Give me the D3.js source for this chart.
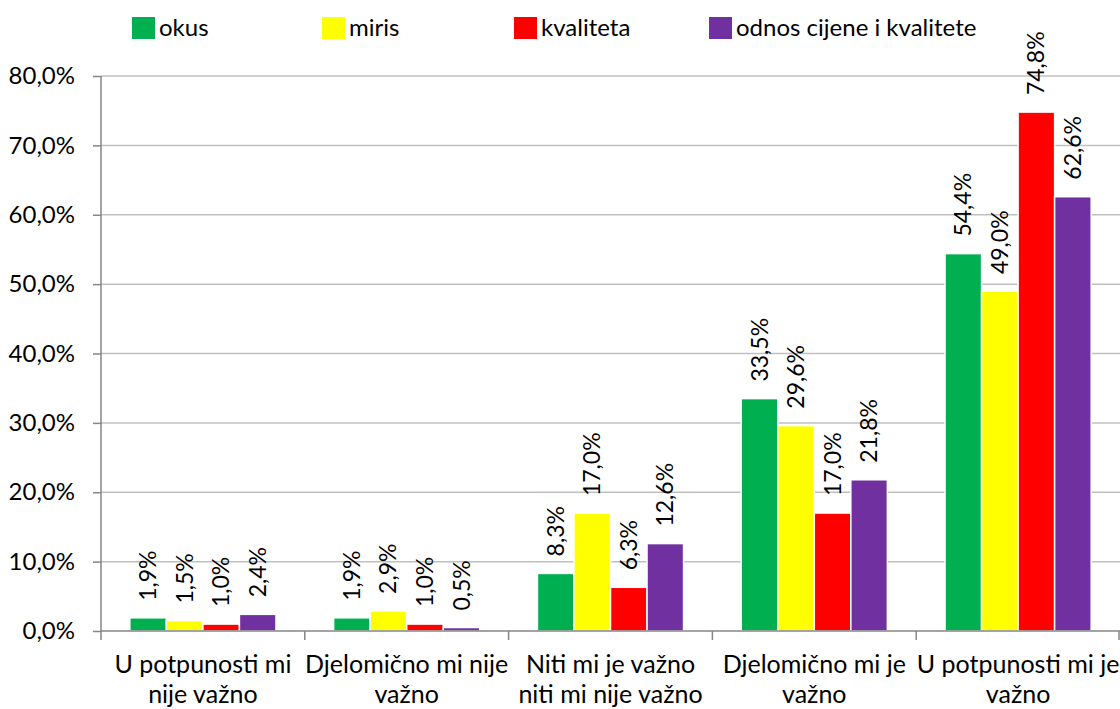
<!DOCTYPE html>
<html lang="hr">
<head>
<meta charset="utf-8">
<title>Važnost</title>
<script src="https://cdn.jsdelivr.net/npm/d3@7"></script>
<style>
body { margin:0; background:#fff; }
svg text { font-family: Lato, "Noto Sans", sans-serif; fill:#000; }
.grid line { stroke:#c0c0c0; stroke-width:1.5px; }
.axis path, .axis line { stroke:#868686; stroke-width:1.5px; }
</style>
</head>
<body>
<div id="chart"></div>
<script>
// podaci
var categories = [
  ["U potpunosti mi", "nije važno"],
  ["Djelomično mi nije", "važno"],
  ["Niti mi je važno", "niti mi nije važno"],
  ["Djelomično mi je", "važno"],
  ["U potpunosti mi je", "važno"]
];
var seriesNames = ["okus", "miris", "kvaliteta", "odnos cijene i kvalitete"];
var okus      = [1.9, 1.9, 8.3, 33.5, 54.4];
var miris     = [1.5, 2.9, 17.0, 29.6, 49.0];
var kvaliteta = [1.0, 1.0, 6.3, 17.0, 74.8];
var odnos     = [2.4, 0.5, 12.6, 21.8, 62.6];
var yTicks = [0, 10, 20, 30, 40, 50, 60, 70, 80];

var colors = ["#00b050", "#ffff00", "#ff0000", "#7030a0"];
var W = 1120, H = 709;
var m = {left: 101, right: 1120, top: 76, bottom: 631};
var legendX = [132, 322, 514, 709];

var series = [okus, miris, kvaliteta, odnos];
var fmt = function(v){ return v.toFixed(1).replace(".", ",") + "%"; };

var svg = d3.select("#chart").append("svg")
  .attr("width", W).attr("height", H);

var y = d3.scaleLinear().domain([0, 80]).range([m.bottom, m.top]);
var x0 = d3.scaleBand().domain(d3.range(categories.length))
  .range([m.left, m.right]).paddingInner(0.283).paddingOuter(0.1415);
var x1 = d3.scaleBand().domain(d3.range(series.length))
  .range([0, x0.bandwidth()]);
var step = x0.step();

// mreža
svg.append("g").attr("class", "grid")
  .selectAll("line").data(yTicks.slice(1)).enter().append("line")
    .attr("x1", m.left).attr("x2", m.right)
    .attr("y1", function(d){ return y(d); }).attr("y2", function(d){ return y(d); });

// stupci
var groups = svg.append("g").selectAll("g").data(categories).enter().append("g")
  .attr("transform", function(d, i){ return "translate(" + x0(i) + ",0)"; });
groups.selectAll("rect").data(function(d, i){
    return series.map(function(s, j){ return {s: j, v: s[i]}; });
  }).enter().append("rect")
    .attr("x", function(d){ return x1(d.s); })
    .attr("width", x1.bandwidth())
    .attr("y", function(d){ return y(d.v); })
    .attr("height", function(d){ return y(0) - y(d.v); })
    .attr("fill", function(d){ return colors[d.s]; })
    .attr("stroke", "#fff").attr("stroke-width", 1.5);

groups.selectAll("text").data(function(d, i){
    return series.map(function(s, j){ return {s: j, v: s[i]}; });
  }).enter().append("text")
    .attr("transform", function(d){
      return "translate(" + (x1(d.s) + x1.bandwidth() / 2) + "," + (y(d.v) - 17) + ") rotate(-90)";
    })
    .attr("dy", "0.35em")
    .style("font-size", "23px")
    .text(function(d){ return fmt(d.v); });

// os y
var yAxis = svg.append("g").attr("class", "axis")
  .attr("transform", "translate(" + m.left + ",0)")
  .call(d3.axisLeft(y).tickValues(yTicks).tickSize(8).tickPadding(18)
    .tickFormat(function(d){ return d.toFixed(1).replace(".", ",") + "%"; }));
yAxis.select(".domain").attr("d", "M0," + m.top + "V" + m.bottom);
yAxis.selectAll("text").style("font-size", "24px");

// os x
svg.append("line").attr("class", "axisline")
  .attr("x1", m.left).attr("x2", m.right)
  .attr("y1", m.bottom).attr("y2", m.bottom)
  .attr("stroke", "#868686").attr("stroke-width", 1.5);
svg.append("g").selectAll("line").data(d3.range(categories.length + 1)).enter().append("line")
  .attr("x1", function(i){ return Math.min(m.left + i * step, m.right - 1); })
  .attr("x2", function(i){ return Math.min(m.left + i * step, m.right - 1); })
  .attr("y1", m.bottom).attr("y2", m.bottom + 9)
  .attr("stroke", "#868686").attr("stroke-width", 1.5);

var cl = svg.append("g").selectAll("text").data(categories).enter().append("text")
  .attr("text-anchor", "middle")
  .style("font-size", "25px");
cl.selectAll("tspan").data(function(d, i){ return d.map(function(t){ return {t: t, i: i}; }); })
  .enter().append("tspan")
    .attr("x", function(d){ return m.left + (d.i + 0.5) * step; })
    .attr("y", function(d, k){ return 673 + k * 30; })
    .text(function(d){ return d.t; });

// legenda
var lg = svg.append("g").selectAll("g").data(seriesNames).enter().append("g")
  .attr("transform", function(d, i){ return "translate(" + legendX[i] + ",17)"; });
lg.append("rect").attr("width", 23).attr("height", 22)
  .attr("fill", function(d, i){ return colors[i]; });
lg.append("text").attr("x", 27).attr("y", 19)
  .style("font-size", "24px")
  .text(function(d){ return d; });
</script>
</body>
</html>
